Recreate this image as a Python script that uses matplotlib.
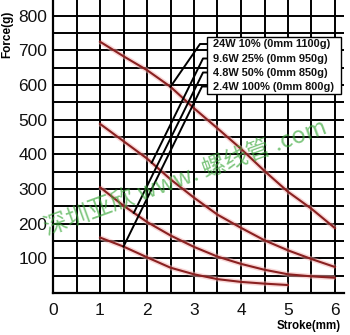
import numpy as np
import matplotlib
matplotlib.use("Agg")
import matplotlib.pyplot as plt
from matplotlib.patches import Rectangle

plt.rcParams["font.family"] = ["Liberation Sans", "Noto Sans CJK SC", "DejaVu Sans"]

# stroke (mm) vs. force (g)
stroke = [1.0, 1.5, 2.0, 2.5, 3.0, 3.5, 4.0, 4.5, 5.0, 5.5, 6.0]
force_24w = [725, 683, 643, 595, 533, 475, 416, 352, 292, 243, 187]
force_96w = [488, 438, 388, 328, 275, 226, 188, 152, 123, 98, 75]
force_48w = [305, 252, 205, 166, 133, 105, 84, 67, 54, 48, 44]
stroke_24w_low = [1.0, 1.5, 2.0, 2.5, 3.0, 3.5, 4.0, 4.5, 5.0]
force_24w_low = [160, 134, 103, 73, 54, 40, 32, 27, 23]

legend_labels = [
    "24W 10% (0mm 1100g)",
    "9.6W 25% (0mm 950g)",
    "4.8W 50% (0mm 850g)",
    "2.4W 100% (0mm 800g)",
]
# stroke position where each leader line touches its curve
leader_at = [2.5, 2.1, 1.72, 1.5]

x_ticks = [0, 1, 2, 3, 4, 5, 6]
y_ticks = [100, 200, 300, 400, 500, 600, 700, 800]

W, H = 350, 335
fig = plt.figure(figsize=(W / 100, H / 100), dpi=100)
ax = fig.add_axes([53 / W, 42 / H, 291.4 / W, 292.9 / H])
ax.set_xlim(0, 6.2)
ax.set_ylim(0, 845)

ax.set_xticks(x_ticks)
ax.set_xticks(np.arange(0, 6.01, 0.5), minor=True)
ax.set_yticks(y_ticks)
ax.set_yticks(np.arange(0, 801, 50), minor=True)
ax.grid(which="both", color="black", linewidth=1.4)
ax.set_axisbelow(True)
ax.tick_params(which="both", length=0, labelsize=12.5, colors="#111111")
ax.tick_params(axis="x", pad=7)
ax.tick_params(axis="y", pad=4)
for side in ("top", "right"):
    ax.spines[side].set_visible(False)
for side in ("left", "bottom"):
    ax.spines[side].set_linewidth(1.6)

series = [
    (stroke, force_24w),
    (stroke, force_96w),
    (stroke, force_48w),
    (stroke_24w_low, force_24w_low),
]
for xs, ys in series:
    ax.plot(xs, ys, color="#f4b0b0", linewidth=3.6, alpha=0.5, solid_capstyle="butt", zorder=3)
    ax.plot(xs, ys, color="#8a2020", linewidth=1.5, zorder=4)

# watermark
fig.text(0.53, 0.47, "深圳亚欣 www. 螺线管 .com", color="#3aa83a", alpha=0.65,
         fontsize=17, rotation=20, ha="center", va="center",
         family=["Noto Sans CJK SC"], fontweight="light", zorder=5)

# legend box with leader lines
box_l, box_t, box_r, box_b = 207, 37, 341, 94
fig.patches.append(Rectangle((box_l / W, 1 - box_b / H), (box_r - box_l) / W, (box_b - box_t) / H,
                             transform=fig.transFigure, facecolor="white", edgecolor="black",
                             linewidth=1.0, zorder=6))
rows_y = [44, 58.5, 72.5, 86.5]
elbow_x = [200, 203, 203, 202]
for label, ry, ex, sx, (xs, ys) in zip(legend_labels, rows_y, elbow_x, leader_at, series):
    fig.text(213 / W, 1 - ry / H, label, fontsize=7.9, fontweight="bold", color="#111111",
             va="center", ha="left", zorder=7)
    sy = np.interp(sx, xs, ys)
    ex_d, ey_d = ax.transData.inverted().transform(fig.transFigure.transform((ex / W, 1 - ry / H)))
    bx_d, _ = ax.transData.inverted().transform(fig.transFigure.transform((box_l / W, 1 - ry / H)))
    ax.plot([sx, ex_d, bx_d], [sy, ey_d, ey_d], color="black", linewidth=1.4,
            clip_on=False, zorder=5)

fig.text(7 / W, 1 - 11 / H, "Force(g)", rotation=90, fontsize=8.5,
         fontweight="bold", ha="center", va="top")
fig.text(309 / W, 1 - 326 / H, "Stroke(mm)", fontsize=8.3, fontweight="bold", ha="center", va="center")

fig.savefig("out.png", dpi=100)
